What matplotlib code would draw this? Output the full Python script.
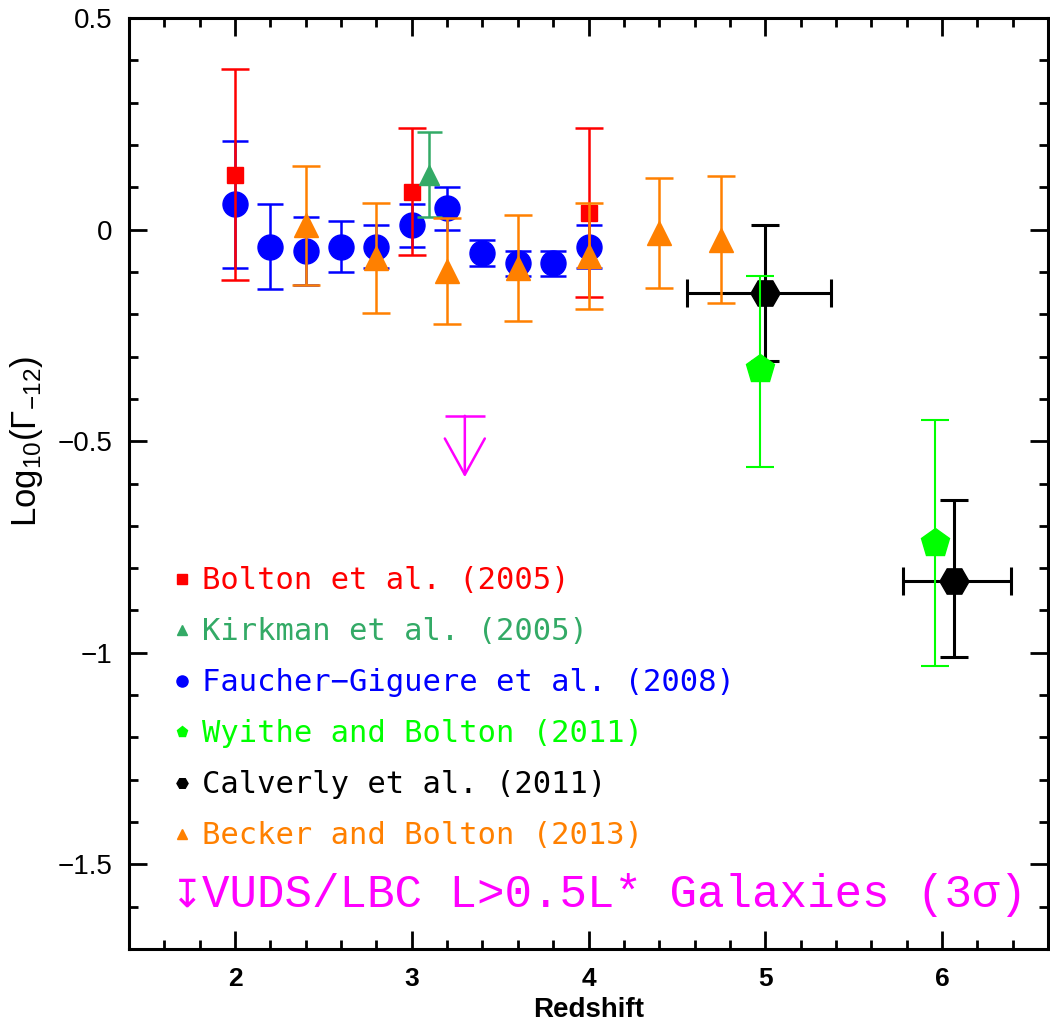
"""Photoionization rate Log10(Gamma_-12) versus redshift: literature measurements
plus the VUDS/LBC galaxy upper limit. Writes out.png."""
import matplotlib
matplotlib.use("Agg")
import matplotlib.pyplot as plt
from matplotlib.lines import Line2D
from matplotlib.ticker import MultipleLocator

# Bolton et al. (2005)
bolton_z = [2.0, 3.0, 4.0]
bolton_g = [0.13, 0.09, 0.04]
bolton_err = [0.25, 0.15, 0.20]

# Kirkman et al. (2005)
kirkman_z = [3.1]
kirkman_g = [0.13]
kirkman_err = [0.10]

# Faucher-Giguere et al. (2008)
fg_z = [2.0, 2.2, 2.4, 2.6, 2.8, 3.0, 3.2, 3.4, 3.6, 3.8, 4.0]
fg_g = [0.06, -0.04, -0.05, -0.04, -0.04, 0.01, 0.05, -0.055, -0.08, -0.08, -0.04]
fg_err = [0.15, 0.10, 0.08, 0.06, 0.05, 0.05, 0.05, 0.03, 0.03, 0.03, 0.05]

# Wyithe and Bolton (2011)
wb_z = [4.97, 5.96]
wb_g = [-0.33, -0.74]
wb_err_lo = [0.23, 0.29]
wb_err_hi = [0.22, 0.29]

# Calverly et al. (2011)
cal_z = [5.0, 6.07]
cal_g = [-0.15, -0.83]
cal_err_lo = [0.16, 0.18]
cal_err_hi = [0.16, 0.19]
cal_zerr_lo = [0.44, 0.29]
cal_zerr_hi = [0.37, 0.32]

# Becker and Bolton (2013)
bb_z = [2.4, 2.8, 3.2, 3.6, 4.0, 4.4, 4.75]
bb_g = [0.01, -0.066, -0.097, -0.09, -0.062, -0.009, -0.024]
bb_err = [0.14, 0.13, 0.125, 0.125, 0.125, 0.13, 0.15]

# VUDS/LBC L>0.5L* galaxies, 3 sigma upper limit
vuds_z = 3.3
vuds_g = -0.44
vuds_arrow = 0.145

RED = "#ff0000"
KIRK = "#33aa66"
BLUE = "#0000ff"
LIME = "#00ff00"
BLACK = "#000000"
ORANGE = "#ff8000"
MAGENTA = "#ff00ff"

plt.rcParams["mathtext.fontset"] = "custom"
plt.rcParams["mathtext.rm"] = "Liberation Sans"
plt.rcParams["mathtext.it"] = "Liberation Sans:italic"

fig = plt.figure(figsize=(10.5, 10.25), dpi=100)
ax = fig.add_axes([0.1229, 0.0741, 0.8752, 0.9083])

eb = dict(linestyle="none", capsize=10, capthick=1.8, elinewidth=1.8)

ax.errorbar(cal_z, cal_g, yerr=[cal_err_lo, cal_err_hi], xerr=[cal_zerr_lo, cal_zerr_hi],
            fmt="H", ms=21, color=BLACK, mec=BLACK, zorder=3,
            **{**eb, "elinewidth": 2.2, "capthick": 2.2})
ax.errorbar(fg_z, fg_g, yerr=fg_err, fmt="o", ms=18, color=BLUE, zorder=4,
            **{**eb, "capsize": 9.5})
ax.errorbar(bolton_z, bolton_g, yerr=bolton_err, fmt="s", ms=12, color=RED, zorder=5, **eb)
ax.errorbar(kirkman_z, kirkman_g, yerr=kirkman_err, fmt="^", ms=15, color=KIRK, zorder=5,
            **{**eb, "capsize": 9})
ax.errorbar(bb_z, bb_g, yerr=bb_err, fmt="^", ms=17, color=ORANGE, zorder=6, **eb)
ax.errorbar(wb_z, wb_g, yerr=[wb_err_lo, wb_err_hi], fmt="p", ms=21, color=LIME, zorder=7,
            **{**eb, "elinewidth": 1.5, "capthick": 1.5})

# upper limit: bar plus open downward arrow
ax.plot([vuds_z], [vuds_g], marker="_", ms=29, mew=1.8, color=MAGENTA, zorder=6)
ax.annotate("", xy=(vuds_z, vuds_g - vuds_arrow), xytext=(vuds_z, vuds_g),
            arrowprops=dict(arrowstyle="->,head_length=1.3,head_width=0.72",
                            mutation_scale=20, color=MAGENTA, lw=1.8,
                            shrinkA=0, shrinkB=0), zorder=6)

ax.set_xlim(1.4, 6.6)
ax.set_ylim(-1.7, 0.5)
ax.xaxis.set_major_locator(MultipleLocator(1))
ax.xaxis.set_minor_locator(MultipleLocator(0.2))
ax.yaxis.set_major_locator(MultipleLocator(0.5))
ax.yaxis.set_minor_locator(MultipleLocator(0.1))
ax.tick_params(which="both", direction="in", top=True, right=True, width=2)
ax.tick_params(which="major", length=13)
ax.tick_params(which="minor", length=6.5)
ax.tick_params(axis="y", pad=12, labelsize=20)
ax.tick_params(axis="x", pad=13, labelsize=19)
for spine in ax.spines.values():
    spine.set_linewidth(2.2)

ax.set_yticks([0.5, 0, -0.5, -1, -1.5])
ax.set_yticklabels(["0.5", "0", "\u22120.5", "\u22121", "\u22121.5"],
                   family=["Liberation Sans", "DejaVu Sans"])
ax.set_xticks([2, 3, 4, 5, 6])
ax.set_xticklabels(["2", "3", "4", "5", "6"],
                   family=["Liberation Sans", "DejaVu Sans"], weight="bold")

ax.set_xlabel("Redshift", family=["Liberation Sans", "DejaVu Sans"],
              weight="bold", fontsize=20, labelpad=4)
ax.set_ylabel(r"Log$_{10}$($\Gamma_{-12}$)", family=["Liberation Sans", "DejaVu Sans"],
              fontsize=25)
ax.yaxis.set_label_coords(-0.091, 0.545)

handles = [
    Line2D([], [], ls="none", marker="s", ms=7, color=RED),
    Line2D([], [], ls="none", marker="^", ms=7, color=KIRK),
    Line2D([], [], ls="none", marker="o", ms=8, color=BLUE),
    Line2D([], [], ls="none", marker="p", ms=8, color=LIME),
    Line2D([], [], ls="none", marker="H", ms=8, color=BLACK),
    Line2D([], [], ls="none", marker="^", ms=7, color=ORANGE),
]
labels = ["Bolton et al. (2005)", "Kirkman et al. (2005)",
          "Faucher\u2212Giguere et al. (2008)", "Wyithe and Bolton (2011)",
          "Calverly et al. (2011)", "Becker and Bolton (2013)"]
ax.legend(handles, labels, loc="upper left", bbox_to_anchor=(0.048, 0.411),
          frameon=False, handlelength=0.6, handletextpad=0.35, labelspacing=0.72,
          borderpad=0, borderaxespad=0,
          prop={"family": ["DejaVu Sans Mono"], "size": 22},
          labelcolor=[RED, KIRK, BLUE, LIME, BLACK, ORANGE])

ax.text(0.045, 0.045, "\u21a7", transform=ax.transAxes, color=MAGENTA,
        family=["DejaVu Sans"], fontsize=28, va="baseline", ha="left")
ax.text(0.079, 0.045, "VUDS/LBC L>0.5L* Galaxies (3\u03c3)", transform=ax.transAxes,
        color=MAGENTA, family=["Liberation Mono", "DejaVu Serif"], fontsize=33,
        va="baseline", ha="left")

fig.savefig("out.png", dpi=100)
